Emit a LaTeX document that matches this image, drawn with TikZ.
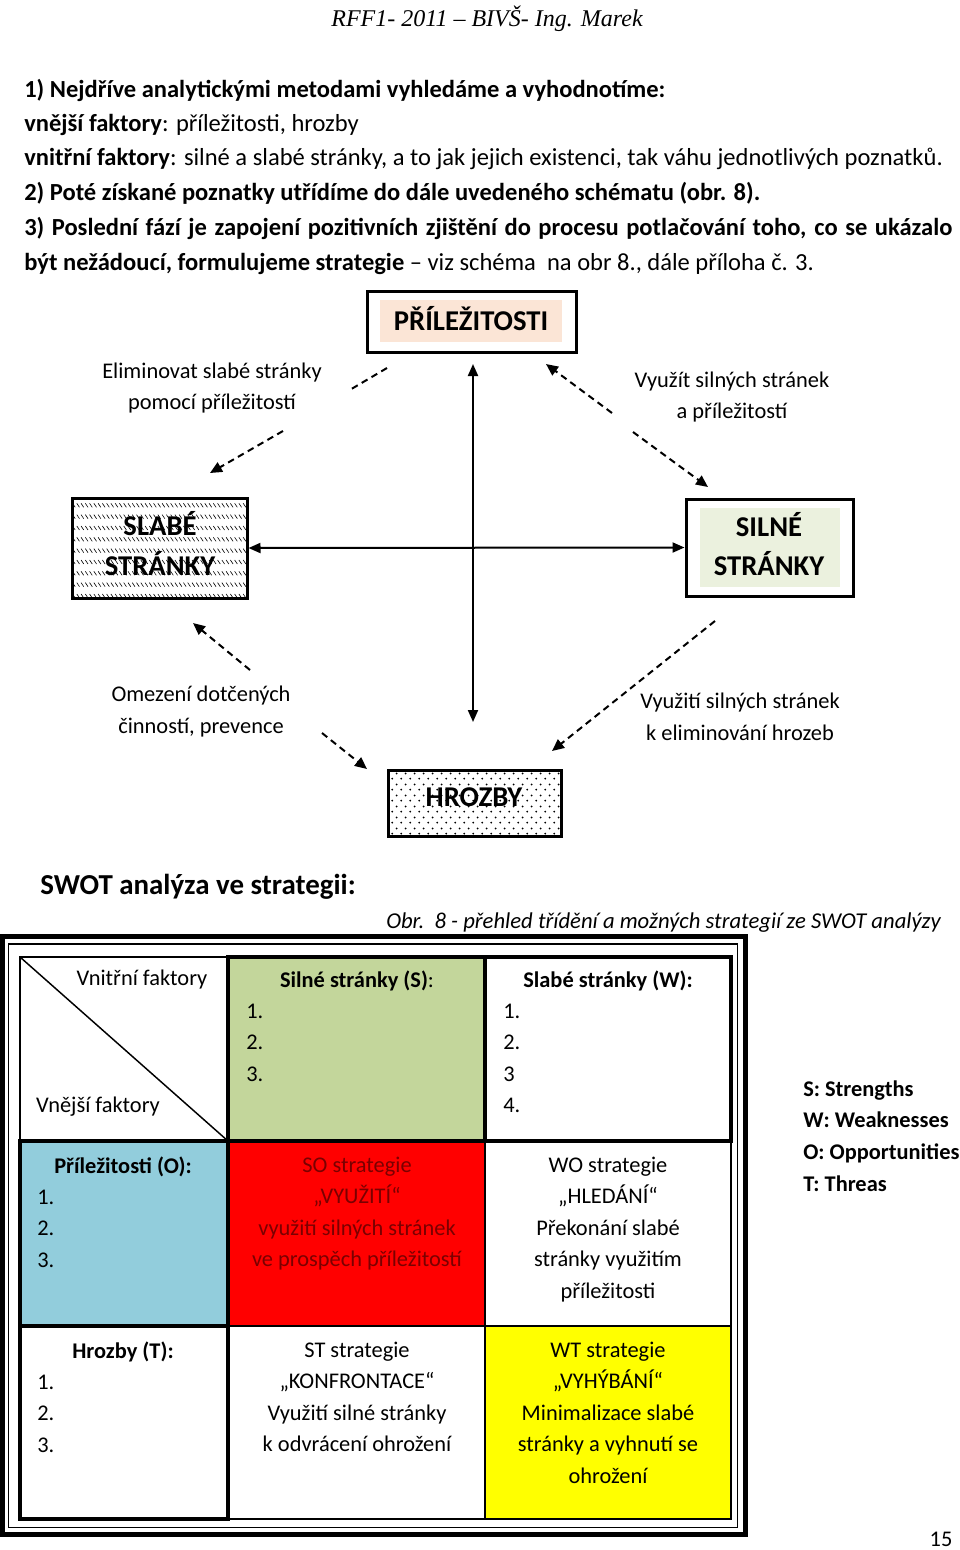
\documentclass[tikz,border=0pt]{standalone}
\usepackage{fontspec}
\setmainfont{Carlito}
\newfontfamily\handfont{Liberation Serif}
\usetikzlibrary{arrows.meta,patterns,fit}
\definecolor{peach}{HTML}{FBE5D6}
\definecolor{lgreen}{HTML}{EBF1DE}
\definecolor{sgreen}{HTML}{C3D69B}
\definecolor{oblue}{HTML}{92CDDC}
\definecolor{sored}{HTML}{FF0000}
\definecolor{sotext}{HTML}{7A0000}
\definecolor{wtyellow}{HTML}{FFFF00}
\pgfdeclarepatternformonly{hatchdash}{\pgfqpoint{-1pt}{-1pt}}{\pgfqpoint{4pt}{10pt}}{\pgfqpoint{3.2pt}{8.5pt}}{%
  \pgfsetlinewidth{0.45pt}%
  \pgfpathmoveto{\pgfqpoint{0pt}{3pt}}%
  \pgfpathlineto{\pgfqpoint{2pt}{0pt}}%
  \pgfusepath{stroke}}
\pgfdeclarepatternformonly{dotgrid}{\pgfqpoint{0pt}{0pt}}{\pgfqpoint{7pt}{8pt}}{\pgfqpoint{7pt}{8pt}}{%
  \pgfpathcircle{\pgfqpoint{1pt}{1pt}}{0.8pt}%
  \pgfpathcircle{\pgfqpoint{4.5pt}{5pt}}{0.8pt}%
  \pgfusepath{fill}}
\begin{document}
\begin{tikzpicture}[x=0.75pt,y=-0.75pt,
  body/.style={font=\fontsize{18.4}{22}\selectfont, inner sep=0pt, anchor=base west},
  lbl/.style={font=\fontsize{16.8}{20}\selectfont, inner sep=0pt, anchor=base},
  item/.style={font=\fontsize{16.8}{20}\selectfont, inner sep=0pt, anchor=base west},
  boxlbl/.style={font=\bfseries\fontsize{21.5}{24}\selectfont, inner sep=0pt, anchor=base},
  legend/.style={font=\bfseries\fontsize{16.8}{20}\selectfont, inner sep=0pt, anchor=base west},
  frame/.style={draw, line width=2.25pt, inner sep=0pt},
  solidarr/.style={line width=1.5pt, {Triangle[length=9pt,width=7.5pt]}-{Triangle[length=9pt,width=7.5pt]}},
  dsh/.style={line width=1.5pt, dash pattern=on 5pt off 3.5pt},
  dtip/.style={dsh, -{Triangle[length=9pt,width=8pt]}},
  thin/.style={line width=1.1pt},
  thick/.style={line width=3pt},
]
\useasboundingbox (0,0) rectangle (960,1550);
\fill[white] (0,0) rectangle (960,1550);

% header
\node[font=\handfont\itshape\fontsize{18}{20}\selectfont, inner sep=0pt, anchor=base] (hdr) at (487,26) {RFF1- 2011 – BIVŠ- Ing. Marek};

% body text
\node[body] (l1) at (24,97) {\bfseries 1) Nejdříve analytickými metodami vyhledáme a vyhodnotíme:};
\node[body] (l2) at (24,131) {\textbf{vnější faktory}: příležitosti, hrozby};
\node[body] (l3) at (24,165) {\textbf{vnitřní faktory}: silné a slabé stránky, a to jak jejich existenci, tak váhu jednotlivých poznatků.};
\node[body] (l4) at (24,200) {\bfseries 2) Poté získané poznatky utřídíme do dále uvedeného schématu (obr. 8).};
\node[body] (l5) at (24,235) {\hbox to 696pt{\bfseries 3) Poslední fází je zapojení pozitivních zjištění do procesu potlačování toho, co se ukázalo}};
\node[body] (l6) at (24,270) {\textbf{být nežádoucí, formulujeme strategie} – viz schéma\ \ na obr 8., dále příloha č. 3.};

% boxes
\fill[peach] (380,300) rectangle (562,342);
\node[frame, fit={(367,291) (576,352)}] (prl) {};
\node[boxlbl] (prlt) at (471,330) {PŘÍLEŽITOSTI};

\node[frame, pattern=hatchdash, fit={(72,498) (247,598)}] (sla) {};
\node[boxlbl] (slat1) at (160,535) {SLABÉ};
\node[boxlbl] (slat2) at (160,575) {STRÁNKY};

\fill[lgreen] (700,508) rectangle (840,587);
\node[frame, fit={(686,499) (853,596)}] (sil) {};
\node[boxlbl] (silt1) at (769,536) {SILNÉ};
\node[boxlbl] (silt2) at (769,575) {STRÁNKY};

\node[frame, pattern=dotgrid, fit={(388,770) (561,836)}] (hro) {};
\node[boxlbl] (hrot) at (474,806) {HROZBY};

% solid arrows
\coordinate (vt) at (473,364);
\coordinate (vb) at (473,722);
\draw[solidarr] (vt) -- (vb);
\draw[solidarr] (sla.east) -- (sil.west);

% dashed arrows
\coordinate (tla) at (387,368); \coordinate (tlb) at (348,391);
\coordinate (tlc) at (283,431); \coordinate (tld) at (210,473);
\draw[dsh] (tla) -- (tlb);
\draw[dtip] (tlc) -- (tld);
\coordinate (tra) at (612,413); \coordinate (trb) at (546,364);
\coordinate (trc) at (633,432); \coordinate (trd) at (708,487);
\draw[dtip] (tra) -- (trb);
\draw[dtip] (trc) -- (trd);
\coordinate (bla) at (250,670); \coordinate (blb) at (193,623);
\coordinate (blc) at (322,733); \coordinate (bld) at (367,769);
\draw[dtip] (bla) -- (blb);
\draw[dtip] (blc) -- (bld);
\coordinate (bra) at (715,621); \coordinate (brb) at (552,751);
\draw[dtip] (bra) -- (brb);

% labels
\node[lbl] (e1) at (212,378) {Eliminovat slabé stránky};
\node[lbl] (e2) at (212,409) {pomocí příležitostí};
\node[lbl] (v1) at (732,387) {Využít silných stránek};
\node[lbl] (v2) at (732,418) {a příležitostí};
\node[lbl] (o1) at (201,701) {Omezení dotčených};
\node[lbl] (o2) at (201,733) {činností, prevence};
\node[lbl] (h1) at (740,708) {Využití silných stránek};
\node[lbl] (h2) at (740,740) {k eliminování hrozeb};

% SWOT heading
\node[font=\bfseries\fontsize{21.7}{24}\selectfont, inner sep=0pt, anchor=base west] (swot) at (40,894) {SWOT analýza ve strategii:};
\node[font=\itshape\fontsize{17}{20}\selectfont, inner sep=0pt, anchor=base west] (obr) at (386,928) {Obr.\ \ 8 - přehled třídění a možných strategií ze SWOT analýzy};

% table frame
\draw[line width=3.75pt] (2.5,936.5) rectangle (745,1534);
\draw[line width=1.2pt] (8.5,944) rectangle (737.5,1527.5);
% fills
\fill[sgreen] (228,957) rectangle (485,1141);
\fill[oblue] (20,1141) rectangle (228,1326);
\fill[sored] (228,1141) rectangle (485,1326);
\fill[wtyellow] (485,1326) rectangle (731,1519);
% grid
\draw[thin] (20,957) rectangle (731,1519);
\draw[thin] (228,957) -- (228,1519);
\draw[thin] (485,957) -- (485,1519);
\draw[thin] (20,1141) -- (731,1141);
\draw[thin] (20,1326) -- (731,1326);
\draw[thin] (20,957) -- (228,1141);
\draw[thick] (228,957) rectangle (485,1141);
\draw[thick] (485,957) rectangle (731,1141);
\draw[thick] (20,1141) rectangle (228,1326);
\draw[thick] (20,1326) rectangle (228,1519);

% table texts
\node[lbl] (vf) at (142,985) {Vnitřní faktory};
\node[lbl] (ef) at (98,1112) {Vnější faktory};
\node[lbl] (sh) at (357,987) {\textbf{Silné stránky (S)}:};
\foreach \n [count=\i from 0] in {1.,2.,3.}
  \node[item] (s\i) at (246,1018+\i*31.6) {\n};
\node[lbl] (wh) at (608,987) {\bfseries Slabé stránky (W):};
\foreach \n [count=\i from 0] in {1.,2.,3,4.}
  \node[item] (w\i) at (503,1018+\i*31.6) {\n};
\node[lbl] (oh) at (123,1173) {\bfseries Příležitosti (O):};
\foreach \n [count=\i from 0] in {1.,2.,3.}
  \node[item] (op\i) at (37,1204+\i*31.6) {\n};
\foreach \t [count=\i from 0] in {SO strategie,„VYUŽITÍ“,využití silných stránek,ve prospěch příležitostí}
  \node[lbl, text=sotext] (so\i) at (357,1172+\i*31.6) {\t};
\foreach \t [count=\i from 0] in {WO strategie,„HLEDÁNÍ“,Překonání slabé,stránky využitím,příležitosti}
  \node[lbl] (wo\i) at (608,1172+\i*31.6) {\t};
\node[lbl] (th) at (123,1358) {\bfseries Hrozby (T):};
\foreach \n [count=\i from 0] in {1.,2.,3.}
  \node[item] (t\i) at (37,1389+\i*31.6) {\n};
\foreach \t [count=\i from 0] in {ST strategie,„KONFRONTACE“,Využití silné stránky,k odvrácení ohrožení}
  \node[lbl] (st\i) at (357,1357+\i*31.6) {\t};
\foreach \t [count=\i from 0] in {WT strategie,„VYHÝBÁNÍ“,Minimalizace slabé,stránky a vyhnutí se,ohrožení}
  \node[lbl] (wt\i) at (608,1357+\i*31.6) {\t};

% legend
\node[legend] (lg1) at (803,1096) {S: Strengths};
\node[legend] (lg2) at (803,1127) {W: Weaknesses};
\node[legend] (lg3) at (803,1159) {O: Opportunities};
\node[legend] (lg4) at (803,1191) {T: Threas};

\node[lbl] (pg) at (941,1546) {15};
\end{tikzpicture}
\end{document}
